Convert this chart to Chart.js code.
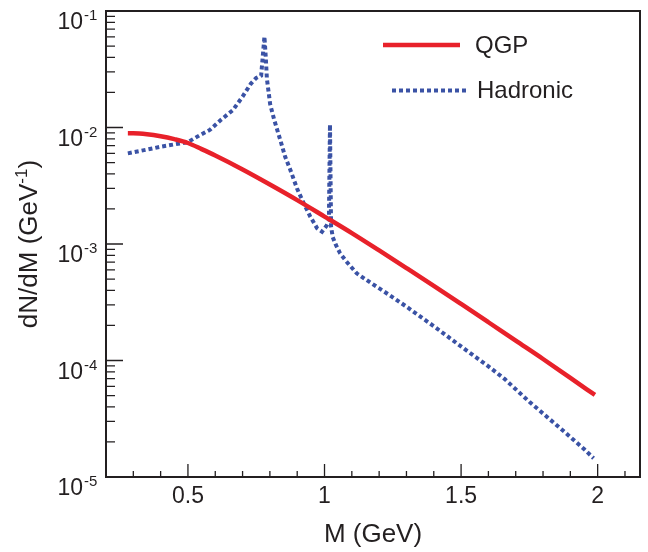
<!DOCTYPE html>
<html>
<head>
<meta charset="utf-8">
<script src="https://cdn.jsdelivr.net/npm/chart.js@4.4.1/dist/chart.umd.min.js"></script>
<style>
  html, body { margin: 0; padding: 0; background: #fff; }
  #wrap { width: 648px; height: 552px; }
</style>
</head>
<body>
<div id="wrap"><canvas id="chart" width="648" height="552"></canvas></div>
<script>
// values
const massQGP = [0.28, 0.30, 0.35, 0.40, 0.45, 0.50, 0.55, 0.60, 0.70, 0.80, 0.90, 1.00,
  1.10, 1.20, 1.30, 1.40, 1.50, 1.60, 1.70, 1.80, 1.90, 1.99];
const rateQGP = [8.91e-3, 8.91e-3, 8.75e-3, 8.41e-3, 7.94e-3, 7.36e-3, 6.52e-3, 5.74e-3,
  4.36e-3, 3.24e-3, 2.38e-3, 1.72e-3, 1.24e-3, 8.80e-4, 6.22e-4, 4.38e-4, 3.06e-4,
  2.13e-4, 1.48e-4, 1.03e-4, 7.08e-5, 5.06e-5];

const massHad = [0.28, 0.35, 0.40, 0.45, 0.50, 0.545, 0.58, 0.62, 0.665, 0.70, 0.73, 0.75,
  0.768, 0.780, 0.785, 0.789, 0.795, 0.801, 0.816, 0.838, 0.856, 0.875, 0.899, 0.924,
  0.948, 0.973, 0.991, 1.008, 1.016, 1.020, 1.024, 1.030, 1.040, 1.057, 1.08, 1.118,
  1.168, 1.216, 1.259, 1.30, 1.40, 1.50, 1.60, 1.66, 1.75, 1.86, 1.95, 1.985];
const rateHad = [6.00e-3, 6.46e-3, 6.84e-3, 7.16e-3, 7.50e-3, 8.63e-3, 9.53e-3, 1.159e-2,
  1.413e-2, 1.841e-2, 2.371e-2, 2.661e-2, 2.786e-2, 6.03e-2, 3.98e-2, 2.63e-2, 2.04e-2,
  1.585e-2, 1.159e-2, 7.82e-3, 5.61e-3, 4.32e-3, 3.01e-3, 2.23e-3, 1.714e-3, 1.365e-3,
  1.276e-3, 1.445e-3, 1.585e-3, 1.06e-2, 1.41e-3, 1.148e-3, 1.0e-3, 8.32e-4, 7.08e-4,
  5.6e-4, 4.66e-4, 3.94e-4, 3.37e-4, 2.90e-4, 1.97e-4, 1.32e-4, 8.91e-5, 6.92e-5,
  4.42e-5, 2.66e-5, 1.74e-5, 1.45e-5];

const xTicks = [0.5, 1, 1.5, 2];
const yTicks = [1e-5, 1e-4, 1e-3, 1e-2, 1e-1];
const yTickExp = ['-5', '-4', '-3', '-2', '-1'];

const FONT = '"Liberation Sans", Arial, Helvetica, sans-serif';
const INK = '#231f20';

const frameAndTicks = {
  id: 'frameAndTicks',
  afterDraw(chart) {
    const { ctx, chartArea: a, scales: { x, y } } = chart;
    ctx.save();
    ctx.strokeStyle = INK;
    ctx.lineWidth = 1.3;
    ctx.beginPath();
    // x ticks, inward
    for (let v = 0.3; v < x.max; v += 0.1) {
      const px = x.getPixelForValue(v);
      const major = xTicks.some(t => Math.abs(t - v) < 1e-6);
      ctx.moveTo(px, a.bottom);
      ctx.lineTo(px, a.bottom - (major ? 13 : 6));
    }
    // y ticks, inward
    yTicks.forEach(t => {
      for (let k = 1; k <= 9; k++) {
        const v = t * k;
        if (v > y.max * 1.0001) break;
        const py = y.getPixelForValue(v);
        ctx.moveTo(a.left, py);
        ctx.lineTo(a.left + (k === 1 ? 17 : 9), py);
      }
    });
    ctx.stroke();

    // frame
    ctx.lineWidth = 2;
    ctx.strokeRect(a.left, a.top, a.right - a.left, a.bottom - a.top);

    // y tick labels 10^n
    ctx.fillStyle = INK;
    yTicks.forEach((t, i) => {
      const py = y.getPixelForValue(t);
      ctx.font = '23px ' + FONT;
      ctx.textAlign = 'right';
      ctx.textBaseline = 'alphabetic';
      ctx.fillText('10', 83, py + 18);
      ctx.font = '15px ' + FONT;
      ctx.textAlign = 'left';
      ctx.fillText(yTickExp[i], 84, py + 9);
    });

    // y title with superscript
    ctx.save();
    ctx.translate(37, (a.top + a.bottom) / 2);
    ctx.rotate(-Math.PI / 2);
    ctx.textAlign = 'left';
    const big = '26px ' + FONT, small = '17px ' + FONT;
    const p1 = 'dN/dM (GeV', p2 = '-1', p3 = ')';
    ctx.font = big; const w1 = ctx.measureText(p1).width, w3 = ctx.measureText(p3).width;
    ctx.font = small; const w2 = ctx.measureText(p2).width;
    let sx = -(w1 + w2 + w3) / 2;
    ctx.font = big; ctx.fillText(p1, sx, 0); sx += w1;
    ctx.font = small; ctx.fillText(p2, sx, -10); sx += w2;
    ctx.font = big; ctx.fillText(p3, sx, 0);
    ctx.restore();

    // legend
    const ds = chart.data.datasets;
    const rows = [{ y: 45, x0: 383, x1: 460, tx: 475 }, { y: 90.5, x0: 392, x1: 467, tx: 477 }];
    rows.forEach((r, i) => {
      ctx.strokeStyle = ds[i].borderColor;
      ctx.lineWidth = ds[i].borderWidth;
      ctx.setLineDash(ds[i].borderDash || []);
      ctx.beginPath();
      ctx.moveTo(r.x0, r.y);
      ctx.lineTo(r.x1, r.y);
      ctx.stroke();
      ctx.setLineDash([]);
      ctx.fillStyle = INK;
      ctx.font = '24px ' + FONT;
      ctx.textAlign = 'left';
      ctx.textBaseline = 'middle';
      ctx.fillText(ds[i].label, r.tx, r.y + 1);
    });
    ctx.restore();
  }
};

new Chart(document.getElementById('chart'), {
  type: 'line',
  data: {
    datasets: [
      {
        label: 'QGP',
        data: massQGP.map((m, i) => ({ x: m, y: rateQGP[i] })),
        borderColor: '#e8212a',
        borderWidth: 4.5,
        pointRadius: 0,
        cubicInterpolationMode: 'monotone',
        fill: false
      },
      {
        label: 'Hadronic',
        data: massHad.map((m, i) => ({ x: m, y: rateHad[i] })),
        borderColor: '#3a52a5',
        borderWidth: 4,
        borderDash: [4, 3],
        pointRadius: 0,
        tension: 0,
        fill: false
      }
    ]
  },
  options: {
    responsive: false,
    animation: false,
    devicePixelRatio: 1,
    layout: { padding: { top: 11, right: 8, left: 0, bottom: 0 } },
    plugins: { legend: { display: false }, tooltip: { enabled: false } },
    scales: {
      x: {
        type: 'linear',
        min: 0.2,
        max: 2.155,
        afterFit: s => { s.height = 75; },
        afterBuildTicks: s => { s.ticks = xTicks.map(v => ({ value: v })); },
        grid: { display: false, drawTicks: false },
        border: { display: false },
        ticks: {
          color: INK,
          padding: 6,
          maxRotation: 0,
          autoSkip: false,
          font: { family: FONT, size: 23 },
          callback: v => String(v)
        },
        title: {
          display: true,
          text: 'M (GeV)',
          color: INK,
          font: { family: FONT, size: 26 },
          padding: { top: 0, bottom: 2 }
        }
      },
      y: {
        type: 'logarithmic',
        min: 1e-5,
        max: 1e-1,
        afterFit: s => { s.width = 106; },
        afterBuildTicks: s => { s.ticks = yTicks.map(v => ({ value: v })); },
        grid: { display: false, drawTicks: false },
        border: { display: false },
        ticks: { display: false }
      }
    }
  },
  plugins: [frameAndTicks]
});
</script>
</body>
</html>
